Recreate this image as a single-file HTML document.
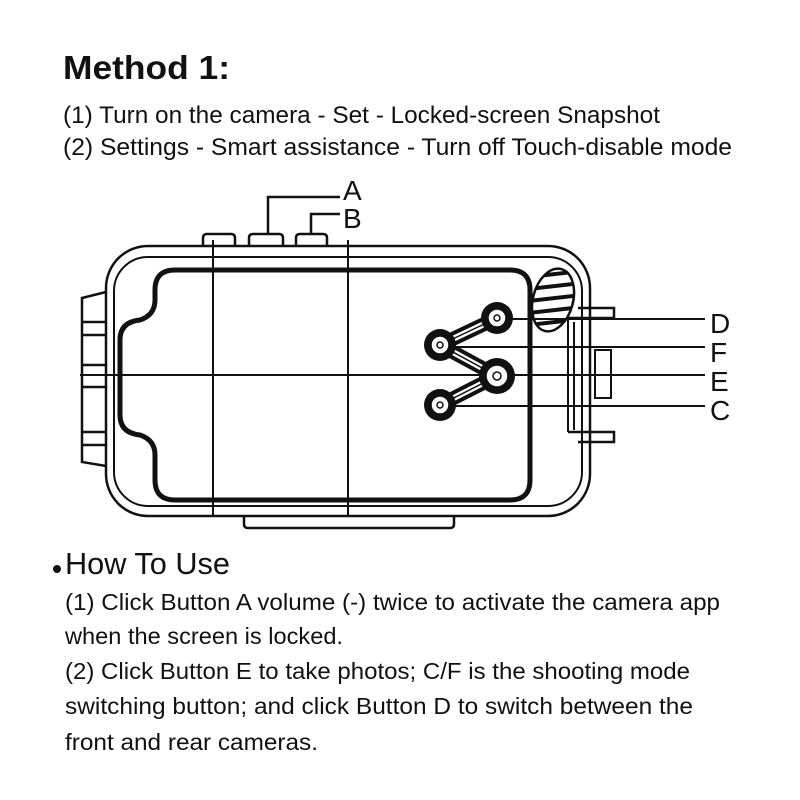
<!DOCTYPE html>
<html><head><meta charset="utf-8"><style>
html,body{margin:0;padding:0;background:#fff;width:800px;height:800px;overflow:hidden}
svg{display:block}
text{font-family:"Liberation Sans",sans-serif;fill:#111}
</style></head><body>
<svg width="800" height="800" viewBox="0 0 800 800">
<text x="63" y="79" font-size="33" font-weight="bold" textLength="167" lengthAdjust="spacingAndGlyphs">Method 1:</text>
<text x="63" y="123" font-size="24" textLength="597" lengthAdjust="spacingAndGlyphs">(1) Turn on the camera - Set - Locked-screen Snapshot</text>
<text x="63" y="155" font-size="24" textLength="669" lengthAdjust="spacingAndGlyphs">(2) Settings - Smart assistance - Turn off Touch-disable mode</text>

<g fill="none" stroke="#111" stroke-width="2.5">
<path d="M203 246 V238 q0-4 4-4 h24 q4 0 4 4 V246"/>
<path d="M249 246 V238 q0-4 4-4 h26 q4 0 4 4 V246"/>
<path d="M296 246 V238 q0-4 4-4 h23 q4 0 4 4 V246"/>
<path d="M268 234 V197 H340"/>
<path d="M311 234 V214 H340"/>
<rect x="106" y="246" width="484" height="270" rx="42"/>
<rect x="114" y="257" width="468" height="249" rx="34" stroke-width="2"/>
<path d="M106 292 L82 298 V462 L106 466"/>
<line x1="82" y1="322" x2="106" y2="322"/><line x1="82" y1="335" x2="106" y2="335"/>
<line x1="82" y1="365" x2="106" y2="365"/><line x1="82" y1="387" x2="106" y2="387"/>
<line x1="82" y1="432" x2="106" y2="432"/><line x1="82" y1="445" x2="106" y2="445"/>
<path d="M244 516 V524 q0 4 4 4 h202 q4 0 4 -4 V516"/>
<path d="M568 318 h46 v-10 h-36 M568 432 h46 v10 h-36"/>
<path d="M574 322 V430 M582 322 V430 M568 320 V432" stroke-width="2"/>
<rect x="595" y="350" width="16" height="48" stroke-width="2"/>
<path d="M175 270 H510 q20 0 20 20 V480 q0 20 -20 20 H175 q-20 0 -20 -20 V455 q0 -15 -15 -20 q-20 -2 -20 -20 V340 q0 -18 20 -20 q15 -5 15 -20 V290 q0 -20 20 -20 Z" stroke-width="5"/>
<line x1="213" y1="240" x2="213" y2="516" stroke-width="2"/>
<line x1="348" y1="240" x2="348" y2="516" stroke-width="2"/>
<line x1="80" y1="375" x2="705" y2="375" stroke-width="2"/>
<line x1="497" y1="319" x2="705" y2="319" stroke-width="2"/>
<line x1="455" y1="347" x2="705" y2="347" stroke-width="2"/>
<line x1="455" y1="406" x2="705" y2="406" stroke-width="2"/>
</g>
<defs><clipPath id="ov"><ellipse cx="553" cy="300" rx="20" ry="32" transform="rotate(15 553 300)"/></clipPath></defs>
<ellipse cx="553" cy="300" rx="20" ry="32" transform="rotate(15 553 300)" fill="none" stroke="#111" stroke-width="2.5"/>
<g clip-path="url(#ov)" stroke="#111" stroke-width="4">
<line x1="520" y1="278" x2="590" y2="270"/><line x1="520" y1="290" x2="590" y2="282"/>
<line x1="520" y1="302" x2="590" y2="294"/><line x1="520" y1="314" x2="590" y2="306"/>
<line x1="520" y1="326" x2="590" y2="318"/>
</g>
<g stroke="#111" stroke-linecap="round" fill="none">
<path d="M497 318 L440 345 L497 376 L440 405" stroke-width="14"/>
<path d="M497 318 L440 345 L497 376 L440 405" stroke="#fff" stroke-width="6"/>
<path d="M497 318 L440 345 L497 376 L440 405" stroke-width="1.5"/>
</g>
<g fill="#111">
<circle cx="497" cy="318" r="16"/><circle cx="440" cy="345" r="16"/>
<circle cx="497" cy="376" r="18"/><circle cx="440" cy="405" r="16"/>
</g>
<g fill="#fff" stroke="#111" stroke-width="1.5">
<circle cx="497" cy="318" r="9"/><circle cx="440" cy="345" r="9"/>
<circle cx="497" cy="376" r="11"/><circle cx="440" cy="405" r="9"/>
<circle cx="497" cy="318" r="3"/><circle cx="440" cy="345" r="3"/>
<circle cx="497" cy="376" r="4"/><circle cx="440" cy="405" r="3"/>
</g>
<g font-size="28">
<text x="343" y="200">A</text><text x="343" y="228">B</text>
<text x="710" y="333">D</text><text x="710" y="362">F</text>
<text x="710" y="391">E</text><text x="710" y="420">C</text>
</g>

<circle cx="57" cy="569" r="4" fill="#111"/>
<text x="65" y="574" font-size="31" textLength="165" lengthAdjust="spacingAndGlyphs">How To Use</text>
<g font-size="23">
<text x="65" y="610" textLength="655" lengthAdjust="spacingAndGlyphs">(1) Click Button A volume (-) twice to activate the camera app</text>
<text x="65" y="644" textLength="278" lengthAdjust="spacingAndGlyphs">when the screen is locked.</text>
<text x="65" y="679" textLength="625" lengthAdjust="spacingAndGlyphs">(2) Click Button E to take photos; C/F is the shooting mode</text>
<text x="65" y="714" textLength="628" lengthAdjust="spacingAndGlyphs">switching button; and click Button D to switch between the</text>
<text x="65" y="750" textLength="253" lengthAdjust="spacingAndGlyphs">front and rear cameras.</text>
</g>
</svg>
</body></html>
